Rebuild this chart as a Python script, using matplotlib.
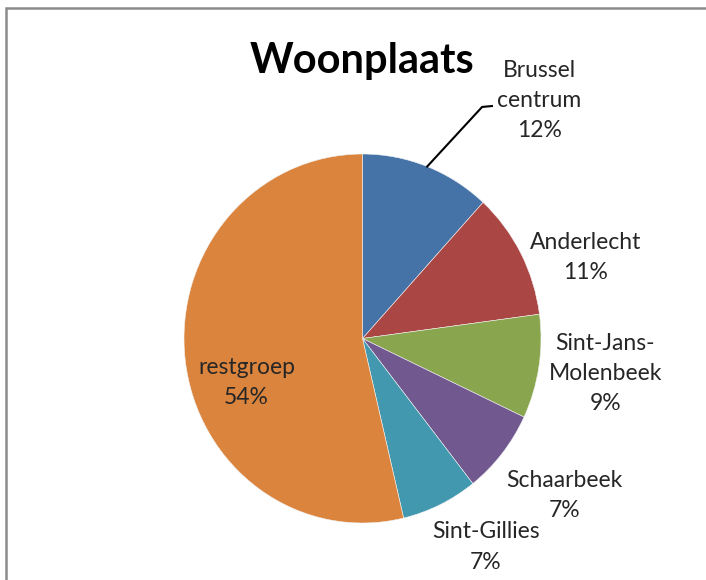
import matplotlib
matplotlib.use("Agg")
import matplotlib.pyplot as plt
from matplotlib.patches import Rectangle
import numpy as np

plt.rcParams['font.family'] = ['Lato', 'DejaVu Sans']

# data
places = ["Brussel\ncentrum", "Anderlecht", "Sint-Jans-\nMolenbeek",
          "Schaarbeek", "Sint-Gillies", "restgroep"]
shares = [11.8, 11.1, 9.1, 7.4, 6.9, 53.7]
colors = ["#4572A7", "#AA4643", "#89A54E", "#71588F", "#4198AF", "#DB843D"]

# where Excel put the labels (pie units, radius = 1)
labelPos = [(0.99, 1.29), (1.25, 0.44), (1.36, -0.19),
            (1.13, -0.85), (0.69, -1.13), (-0.65, -0.24)]

W, H = 706, 580
fig = plt.figure(figsize=(W / 100, H / 100), dpi=100)
ax = fig.add_axes([0, 0, 1, 1])

wedges, _ = ax.pie(shares, colors=colors, startangle=90, counterclock=False,
                   wedgeprops=dict(linewidth=0.4, edgecolor="#f2f2f2"))

# pie centre at (362.5, 338.5) px, radius 178.5 px wide and 184.5 px tall
cx, cy, rx, ry = 362.5, 338.5, 178.5, 184.5
ax.set_xlim(-cx / rx, (W - cx) / rx)
ax.set_ylim((cy - H) / ry, cy / ry)
ax.set_aspect('auto')
ax.axis('off')

total = sum(shares)
for name, val, pos in zip(places, shares, labelPos):
    pct = int(round(val / total * 100))
    ax.text(pos[0], pos[1], name + "\n" + str(pct) + "%", ha="center", va="center",
            fontsize=16.5, color="#262626", linespacing=1.55)

# leader line for the first slice
w = wedges[0]
mid = np.deg2rad((w.theta1 + w.theta2) / 2)
x0, y0 = np.cos(mid), np.sin(mid)
ax.plot([x0, 0.67, 0.725], [y0, 1.255, 1.26], color="black", lw=1.5,
        solid_joinstyle="miter")

fig.text(362.5 / W, 1 - 61 / H, "Woonplaats", ha="center", va="center",
         fontsize=30, fontweight="bold", color="black")

# outer chart border (goes past the right and bottom edges)
fig.patches.append(Rectangle((6 / W, -0.1), 1.2, 1 - 8 / H + 0.1,
                             transform=fig.transFigure, fill=False,
                             edgecolor="#8c8c8c", linewidth=1.8))

fig.savefig("out.png", dpi=100, facecolor="white")
